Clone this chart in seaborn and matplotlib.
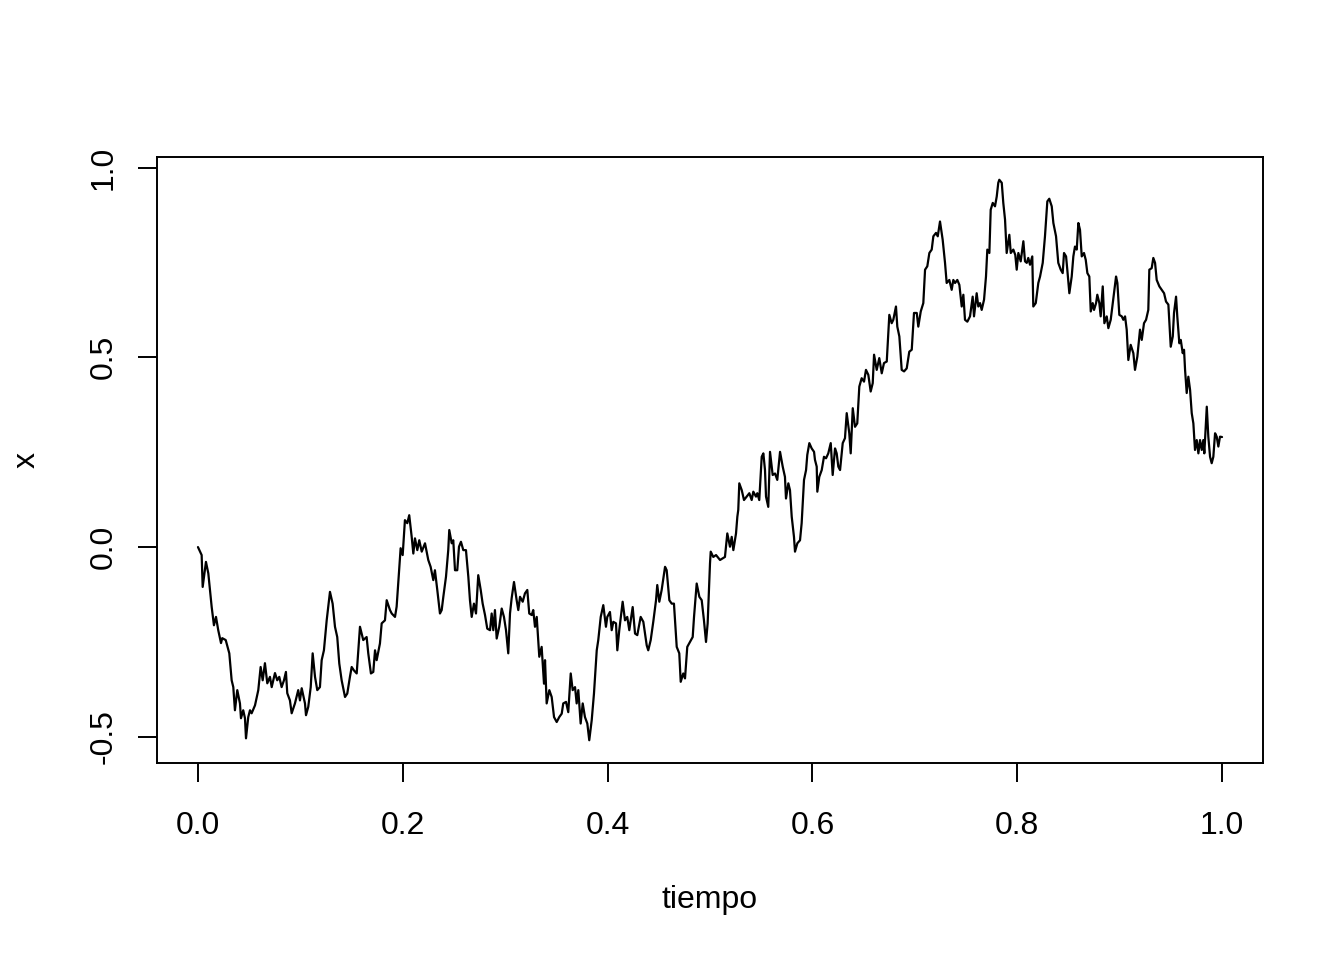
import matplotlib
matplotlib.use("Agg")
import matplotlib.pyplot as plt
import seaborn as sns
import pandas as pd

# path (tiempo, x)
tiempo = [
    0.0, 0.0036, 0.0046, 0.0078, 0.0101, 0.0134, 0.0156, 0.0176, 0.0198, 0.0225,
    0.0237, 0.0271, 0.0306, 0.0329, 0.0345, 0.0361, 0.0384, 0.0410, 0.0420, 0.0442,
    0.0459, 0.0469, 0.0491, 0.0508, 0.0524, 0.0557, 0.0589, 0.0612, 0.0632, 0.0654,
    0.0677, 0.0703, 0.0720, 0.0752, 0.0774, 0.0794, 0.0817, 0.0840, 0.0859, 0.0872,
    0.0898, 0.0915, 0.0947, 0.0979, 0.0996, 0.1013, 0.1045, 0.1055, 0.1077, 0.1101,
    0.1120, 0.1143, 0.1165, 0.1191, 0.1208, 0.1230, 0.1257, 0.1289, 0.1315, 0.1338,
    0.1360, 0.1380, 0.1403, 0.1436, 0.1458, 0.1484, 0.1501, 0.1523, 0.1550, 0.1582,
    0.1614, 0.1647, 0.1663, 0.1689, 0.1712, 0.1729, 0.1745, 0.1777, 0.1794, 0.1826,
    0.1843, 0.1875, 0.1892, 0.1924, 0.1940, 0.1966, 0.1979, 0.1999, 0.2021, 0.2044,
    0.2063, 0.2087, 0.2103, 0.2119, 0.2142, 0.2161, 0.2185, 0.2217, 0.2249, 0.2272,
    0.2298, 0.2314, 0.2337, 0.2363, 0.2380, 0.2396, 0.2422, 0.2444, 0.2454, 0.2478,
    0.2493, 0.2510, 0.2532, 0.2549, 0.2568, 0.2591, 0.2617, 0.2640, 0.2656, 0.2673,
    0.2695, 0.2715, 0.2737, 0.2761, 0.2780, 0.2803, 0.2825, 0.2852, 0.2868, 0.2884,
    0.2900, 0.2917, 0.2942, 0.2966, 0.2988, 0.3008, 0.3030, 0.3047, 0.3063, 0.3086,
    0.3112, 0.3128, 0.3145, 0.3171, 0.3193, 0.3216, 0.3235, 0.3259, 0.3274, 0.3291,
    0.3308, 0.3333, 0.3356, 0.3379, 0.3389, 0.3405, 0.3431, 0.3454, 0.3477, 0.3503,
    0.3528, 0.3552, 0.3567, 0.3594, 0.3616, 0.3640, 0.3659, 0.3682, 0.3698, 0.3714,
    0.3737, 0.3757, 0.3779, 0.3802, 0.3821, 0.3845, 0.3867, 0.3894, 0.3909, 0.3933,
    0.3958, 0.3984, 0.3997, 0.4023, 0.4040, 0.4056, 0.4082, 0.4095, 0.4114, 0.4147,
    0.4170, 0.4192, 0.4212, 0.4245, 0.4268, 0.4290, 0.4323, 0.4349, 0.4365, 0.4382,
    0.4397, 0.4421, 0.4446, 0.4473, 0.4485, 0.4505, 0.4528, 0.4544, 0.4561, 0.4577,
    0.4603, 0.4626, 0.4648, 0.4675, 0.4700, 0.4714, 0.4739, 0.4756, 0.4778, 0.4805,
    0.4831, 0.4844, 0.4870, 0.4896, 0.4919, 0.4941, 0.4961, 0.4977, 0.5000, 0.5007,
    0.5032, 0.5059, 0.5098, 0.5146, 0.5169, 0.5195, 0.5212, 0.5228, 0.5254, 0.5267,
    0.5276, 0.5286, 0.5310, 0.5332, 0.5358, 0.5384, 0.5407, 0.5423, 0.5449, 0.5462,
    0.5481, 0.5505, 0.5521, 0.5537, 0.5547, 0.5569, 0.5586, 0.5612, 0.5635, 0.5657,
    0.5684, 0.5710, 0.5732, 0.5742, 0.5765, 0.5781, 0.5798, 0.5820, 0.5830, 0.5853,
    0.5879, 0.5895, 0.5918, 0.5938, 0.5950, 0.5970, 0.5993, 0.6016, 0.6025, 0.6042,
    0.6048, 0.6067, 0.6091, 0.6113, 0.6133, 0.6155, 0.6179, 0.6198, 0.6221, 0.6237,
    0.6253, 0.6270, 0.6296, 0.6318, 0.6335, 0.6360, 0.6374, 0.6394, 0.6416, 0.6438,
    0.6458, 0.6481, 0.6504, 0.6523, 0.6546, 0.6569, 0.6589, 0.6602, 0.6628, 0.6653,
    0.6677, 0.6699, 0.6726, 0.6751, 0.6774, 0.6790, 0.6816, 0.6829, 0.6849, 0.6872,
    0.6895, 0.6921, 0.6946, 0.6970, 0.6992, 0.7019, 0.7034, 0.7058, 0.7083, 0.7100,
    0.7122, 0.7142, 0.7165, 0.7181, 0.7207, 0.7224, 0.7246, 0.7272, 0.7295, 0.7311,
    0.7337, 0.7360, 0.7376, 0.7393, 0.7415, 0.7435, 0.7458, 0.7474, 0.7490, 0.7513,
    0.7539, 0.7565, 0.7578, 0.7604, 0.7620, 0.7637, 0.7653, 0.7676, 0.7695, 0.7708,
    0.7728, 0.7741, 0.7761, 0.7783, 0.7800, 0.7815, 0.7825, 0.7849, 0.7864, 0.7881,
    0.7897, 0.7923, 0.7937, 0.7962, 0.7981, 0.7995, 0.8011, 0.8034, 0.8060, 0.8076,
    0.8093, 0.8108, 0.8125, 0.8147, 0.8157, 0.8181, 0.8206, 0.8223, 0.8249, 0.8271,
    0.8294, 0.8313, 0.8337, 0.8353, 0.8379, 0.8401, 0.8425, 0.8444, 0.8457, 0.8477,
    0.8489, 0.8509, 0.8532, 0.8548, 0.8564, 0.8581, 0.8597, 0.8613, 0.8630, 0.8652,
    0.8669, 0.8685, 0.8704, 0.8718, 0.8737, 0.8750, 0.8770, 0.8782, 0.8802, 0.8815,
    0.8835, 0.8851, 0.8874, 0.8890, 0.8913, 0.8933, 0.8945, 0.8965, 0.8978, 0.8997,
    0.9021, 0.9036, 0.9053, 0.9069, 0.9085, 0.9108, 0.9134, 0.9150, 0.9173, 0.9199,
    0.9216, 0.9238, 0.9258, 0.9280, 0.9290, 0.9313, 0.9329, 0.9346, 0.9362, 0.9388,
    0.9411, 0.9434, 0.9453, 0.9476, 0.9499, 0.9519, 0.9531, 0.9551, 0.9563, 0.9583,
    0.9597, 0.9616, 0.9629, 0.9639, 0.9655, 0.9671, 0.9688, 0.9704, 0.9720, 0.9736,
    0.9753, 0.9769, 0.9785, 0.9802, 0.9817, 0.9827, 0.9851, 0.9866, 0.9883, 0.9899,
    0.9915, 0.9932, 0.9948, 0.9964, 0.9980, 1.0,
]
x = [
    0.0, -0.021, -0.105, -0.039, -0.069, -0.158, -0.206, -0.184, -0.219, -0.253,
    -0.240, -0.245, -0.280, -0.351, -0.369, -0.430, -0.377, -0.412, -0.451, -0.430,
    -0.451, -0.504, -0.448, -0.430, -0.438, -0.417, -0.377, -0.316, -0.351, -0.306,
    -0.359, -0.342, -0.369, -0.332, -0.351, -0.342, -0.369, -0.351, -0.329, -0.385,
    -0.404, -0.438, -0.412, -0.377, -0.404, -0.372, -0.412, -0.443, -0.421, -0.369,
    -0.280, -0.342, -0.377, -0.369, -0.298, -0.272, -0.193, -0.118, -0.149, -0.210,
    -0.237, -0.307, -0.351, -0.395, -0.386, -0.342, -0.316, -0.325, -0.333, -0.210,
    -0.245, -0.237, -0.280, -0.333, -0.329, -0.272, -0.298, -0.254, -0.201, -0.193,
    -0.140, -0.166, -0.175, -0.184, -0.157, -0.052, -0.003, -0.021, 0.071, 0.063,
    0.084, 0.027, -0.017, 0.023, -0.008, 0.018, -0.012, 0.010, -0.034, -0.052,
    -0.087, -0.061, -0.113, -0.175, -0.166, -0.131, -0.078, -0.008, 0.045, 0.010,
    0.018, -0.061, -0.061, 0.001, 0.014, -0.008, -0.008, -0.078, -0.140, -0.184,
    -0.149, -0.175, -0.074, -0.113, -0.149, -0.179, -0.215, -0.219, -0.175, -0.219,
    -0.166, -0.241, -0.210, -0.162, -0.184, -0.219, -0.280, -0.175, -0.135, -0.092,
    -0.140, -0.166, -0.131, -0.144, -0.122, -0.113, -0.175, -0.179, -0.166, -0.210,
    -0.184, -0.289, -0.263, -0.360, -0.298, -0.412, -0.377, -0.395, -0.448, -0.461,
    -0.448, -0.439, -0.412, -0.408, -0.435, -0.333, -0.377, -0.369, -0.412, -0.377,
    -0.465, -0.412, -0.448, -0.465, -0.509, -0.456, -0.386, -0.272, -0.245, -0.184,
    -0.153, -0.210, -0.184, -0.171, -0.219, -0.197, -0.201, -0.272, -0.219, -0.144,
    -0.193, -0.184, -0.219, -0.158, -0.228, -0.232, -0.184, -0.197, -0.228, -0.259,
    -0.272, -0.245, -0.197, -0.140, -0.100, -0.144, -0.113, -0.083, -0.052, -0.061,
    -0.140, -0.149, -0.149, -0.263, -0.280, -0.355, -0.333, -0.346, -0.263, -0.250,
    -0.237, -0.184, -0.096, -0.131, -0.140, -0.193, -0.250, -0.201, -0.043, -0.012,
    -0.026, -0.021, -0.034, -0.026, 0.036, 0.001, 0.027, -0.008, 0.036, 0.080,
    0.098, 0.168, 0.150, 0.124, 0.133, 0.142, 0.124, 0.146, 0.133, 0.142,
    0.124, 0.238, 0.247, 0.203, 0.133, 0.106, 0.251, 0.190, 0.194, 0.177,
    0.251, 0.212, 0.185, 0.128, 0.168, 0.150, 0.080, 0.027, -0.012, 0.010,
    0.018, 0.063, 0.177, 0.203, 0.243, 0.274, 0.260, 0.251, 0.230, 0.212,
    0.146, 0.185, 0.203, 0.238, 0.234, 0.247, 0.274, 0.190, 0.260, 0.247,
    0.212, 0.203, 0.274, 0.287, 0.353, 0.300, 0.247, 0.366, 0.317, 0.326,
    0.423, 0.445, 0.436, 0.467, 0.454, 0.410, 0.432, 0.507, 0.467, 0.498,
    0.458, 0.485, 0.489, 0.612, 0.590, 0.599, 0.634, 0.581, 0.555, 0.467,
    0.463, 0.471, 0.515, 0.520, 0.617, 0.617, 0.581, 0.621, 0.643, 0.731,
    0.740, 0.775, 0.784, 0.819, 0.828, 0.819, 0.858, 0.810, 0.749, 0.696,
    0.704, 0.678, 0.704, 0.696, 0.704, 0.691, 0.634, 0.665, 0.599, 0.594,
    0.608, 0.660, 0.608, 0.669, 0.634, 0.643, 0.625, 0.652, 0.713, 0.784,
    0.775, 0.889, 0.907, 0.898, 0.924, 0.960, 0.968, 0.960, 0.907, 0.863,
    0.775, 0.823, 0.775, 0.784, 0.770, 0.731, 0.775, 0.753, 0.806, 0.753,
    0.749, 0.762, 0.744, 0.766, 0.634, 0.643, 0.696, 0.713, 0.749, 0.819,
    0.911, 0.918, 0.898, 0.854, 0.819, 0.749, 0.731, 0.722, 0.775, 0.766,
    0.731, 0.669, 0.713, 0.766, 0.792, 0.784, 0.854, 0.836, 0.766, 0.775,
    0.757, 0.722, 0.713, 0.621, 0.643, 0.625, 0.643, 0.665, 0.643, 0.608,
    0.687, 0.590, 0.608, 0.577, 0.599, 0.643, 0.669, 0.713, 0.696, 0.612,
    0.608, 0.599, 0.608, 0.573, 0.493, 0.533, 0.511, 0.467, 0.502, 0.573,
    0.546, 0.590, 0.599, 0.625, 0.731, 0.735, 0.762, 0.749, 0.704, 0.687,
    0.678, 0.669, 0.647, 0.639, 0.528, 0.555, 0.617, 0.660, 0.608, 0.537,
    0.546, 0.511, 0.520, 0.467, 0.406, 0.449, 0.414, 0.353, 0.326, 0.256,
    0.282, 0.247, 0.282, 0.256, 0.282, 0.247, 0.370, 0.291, 0.238, 0.221,
    0.238, 0.300, 0.291, 0.265, 0.291, 0.290,
]

x_ticks = [0.0, 0.2, 0.4, 0.6, 0.8, 1.0]
y_ticks = [-0.5, 0.0, 0.5, 1.0]

df = pd.DataFrame({"tiempo": tiempo, "x": x})

sns.set_style("ticks")
plt.rcParams["font.family"] = ["Liberation Sans", "DejaVu Sans"]

fig = plt.figure(figsize=(13.44, 9.6), dpi=100)
ax = fig.add_axes([157 / 1344, 1 - 763 / 960, 1106 / 1344, 606 / 960])

sns.lineplot(data=df, x="tiempo", y="x", ax=ax, color="black",
             linewidth=1.6, estimator=None, sort=False)

ax.set_xlim(-0.04, 1.04)
ax.set_ylim(-0.569, 1.028)
ax.set_xticks(x_ticks)
ax.set_xticklabels([f"{v:.1f}" for v in x_ticks])
ax.set_yticks(y_ticks)
ax.set_yticklabels([f"{v:.1f}" for v in y_ticks])

for s in ax.spines.values():
    s.set_visible(True)
    s.set_linewidth(1.4)
    s.set_color("black")

ax.tick_params(axis="both", direction="out", length=13.8, width=1.4,
               labelsize=23, colors="black")
ax.tick_params(axis="x", pad=21)
ax.tick_params(axis="y", pad=14, labelrotation=90)
plt.setp(ax.get_yticklabels(), va="center")

ax.set_xlabel("tiempo", fontsize=23, color="black")
ax.set_ylabel("x", fontsize=23, color="black")
ax.xaxis.set_label_coords(0.5, (763 - 900) / 606)
ax.xaxis.label.set_va("center")
ax.yaxis.set_label_coords((27 - 157) / 1106, 0.5)
ax.yaxis.label.set_va("center")

fig.savefig("out.png", dpi=100)
